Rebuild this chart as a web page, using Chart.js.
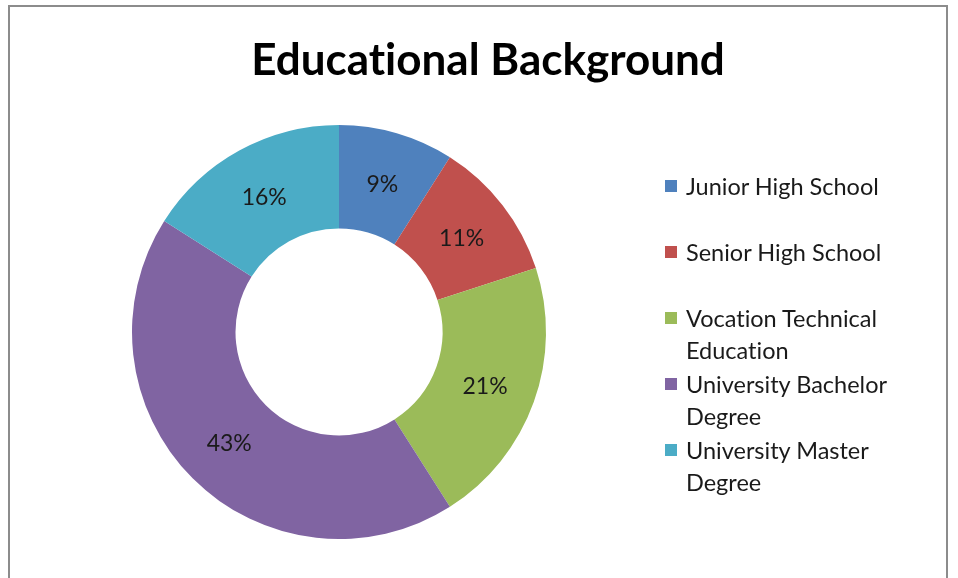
<!DOCTYPE html>
<html>
<head>
<meta charset="utf-8">
<script src="https://cdn.jsdelivr.net/npm/chart.js@4/dist/chart.umd.min.js"></script>
<style>
  html, body { margin: 0; padding: 0; background: #fff; }
  #wrap { position: relative; width: 958px; height: 578px; overflow: hidden; }
  #frame { position: absolute; left: 8px; top: 5px; width: 940px; height: 600px;
           border: 2px solid #8c8c8c; box-sizing: border-box; }
  #title { position: absolute; left: 0; width: 976px; top: 32px; text-align: center;
           font: bold 44px Lato, "Open Sans", sans-serif; color: #000;
           font-variant-ligatures: none; }
  #legend { position: absolute; left: 665px; top: 170px;
            font: 23.5px Lato, "Open Sans", sans-serif; color: #1a1a1a;
            font-variant-ligatures: none; }
  .item { position: relative; height: 66px; padding-left: 21px; line-height: 32px; }
  .sw { position: absolute; left: 0; top: 10px; width: 12px; height: 12px; }
  canvas { position: absolute; left: 0; top: 0; }
</style>
</head>
<body>
<div id="wrap">
  <div id="frame"></div>
  <canvas id="eduChart" width="958" height="578"></canvas>
  <div id="title">Educational Background</div>
  <div id="legend"></div>
</div>
<script>
// Share of respondents by education level (percent)
const categories = ['Junior High School', 'Senior High School', 'Vocation Technical Education', 'University Bachelor Degree', 'University Master Degree'];
const legendLines = [['Junior High School'], ['Senior High School'], ['Vocation Technical', 'Education'], ['University Bachelor', 'Degree'], ['University Master', 'Degree']];
const shares = [9, 11, 21, 43, 16];
const colors = ['#4F81BD', '#C0504D', '#9BBB59', '#8064A2', '#4BACC6'];

// percentage text in the middle of each ring segment
const sliceLabels = {
  id: 'sliceLabels',
  afterDatasetsDraw(chart) {
    const ctx = chart.ctx;
    const meta = chart.getDatasetMeta(0);
    ctx.save();
    ctx.font = '23px Lato, "Open Sans", sans-serif';
    ctx.fillStyle = '#1a1a1a';
    ctx.textAlign = 'center';
    ctx.textBaseline = 'middle';
    meta.data.forEach((arc, i) => {
      const p = arc.tooltipPosition();
      ctx.fillText(shares[i] + '%', p.x, p.y + 2);
    });
    ctx.restore();
  }
};

new Chart(document.getElementById('eduChart'), {
  type: 'doughnut',
  data: {
    labels: categories,
    datasets: [{
      data: shares,
      backgroundColor: colors,
      borderWidth: 0
    }]
  },
  options: {
    responsive: false,
    animation: false,
    cutout: '50%',
    layout: { padding: { left: 132, right: 412, top: 125, bottom: 39 } },
    plugins: {
      legend: { display: false },
      tooltip: { enabled: false }
    }
  },
  plugins: [sliceLabels]
});

// legend built from the same category list
const legend = document.getElementById('legend');
legendLines.forEach((lines, i) => {
  const item = document.createElement('div');
  item.className = 'item';
  const sw = document.createElement('span');
  sw.className = 'sw';
  sw.style.background = colors[i];
  item.appendChild(sw);
  lines.forEach((line, j) => {
    if (j > 0) item.appendChild(document.createElement('br'));
    item.appendChild(document.createTextNode(line));
  });
  legend.appendChild(item);
});
</script>
</body>
</html>
